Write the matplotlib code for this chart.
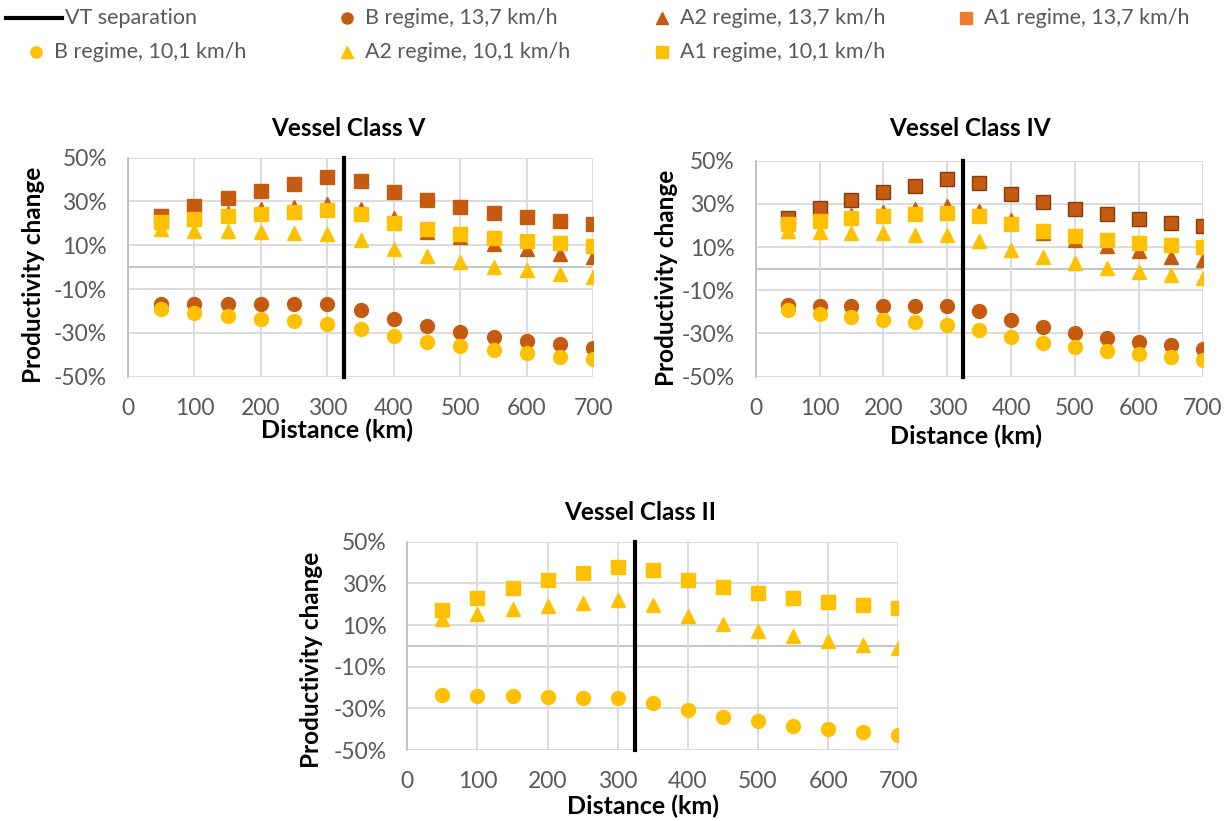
import numpy as np
import matplotlib
matplotlib.use('Agg')
import matplotlib.pyplot as plt
from matplotlib.lines import Line2D
from matplotlib.ticker import FuncFormatter, MultipleLocator

plt.rcParams['font.family'] = ['Lato', 'DejaVu Sans']

distance = [50, 100, 150, 200, 250, 300, 350, 400, 450, 500, 550, 600, 650, 700]
vt_x = [325, 325]
vt_y = [-50, 50]

# Vessel Class V (values in %)
v_b_137 = [-16.7, -17.0, -17.0, -17.0, -17.0, -17.0, -19.4, -23.6, -26.7, -29.5, -31.8, -33.6, -35.2, -36.7]
v_a2_137 = [21.0, 23.0, 24.8, 26.4, 27.6, 29.0, 26.4, 22.5, 16.2, 13.6, 10.6, 8.3, 6.2, 4.5]
v_a1_137 = [23.5, 27.9, 31.5, 34.8, 37.9, 41.1, 39.4, 34.2, 30.6, 27.4, 24.7, 22.9, 21.1, 19.7]
v_b_101 = [-18.9, -20.8, -22.3, -23.6, -24.7, -25.8, -28.3, -31.5, -34.1, -36.2, -38.0, -39.4, -40.8, -41.8]
v_a2_101 = [17.3, 16.7, 16.4, 16.1, 15.6, 15.3, 12.6, 8.5, 5.2, 2.4, 0.2, -1.5, -2.9, -4.4]
v_a1_101 = [20.5, 22.0, 23.2, 24.2, 25.2, 26.0, 24.1, 20.3, 17.4, 15.3, 13.5, 12.0, 10.9, 9.8]

# Vessel Class IV
iv_b_137 = [-16.9, -17.2, -17.1, -17.1, -17.1, -17.1, -19.7, -23.8, -26.9, -29.6, -31.9, -33.8, -35.3, -37.0]
iv_a2_137 = [21.0, 23.0, 24.8, 26.4, 27.8, 29.2, 26.6, 22.6, 16.3, 13.5, 10.5, 8.2, 5.6, 3.9]
iv_a1_137 = [23.7, 28.1, 31.8, 35.3, 38.4, 41.4, 39.7, 34.6, 30.7, 27.6, 25.1, 22.9, 21.1, 19.7]
iv_b_101 = [-19.0, -20.9, -22.4, -23.8, -24.8, -25.9, -28.4, -31.6, -34.2, -36.3, -38.1, -39.6, -41.0, -42.3]
iv_a2_101 = [17.3, 16.9, 16.6, 16.3, 15.8, 15.5, 12.7, 8.5, 5.3, 2.5, 0.3, -1.6, -3.1, -4.3]
iv_a1_101 = [20.8, 22.2, 23.4, 24.3, 25.3, 26.0, 24.2, 20.5, 17.5, 15.3, 13.5, 12.1, 11.0, 9.9]

# Vessel Class II (only 10,1 km/h)
ii_b_101 = [-23.5, -24.0, -24.3, -24.5, -24.8, -25.0, -27.4, -31.0, -34.1, -36.3, -38.4, -40.0, -41.4, -42.6]
ii_a2_101 = [13.0, 15.5, 17.6, 19.0, 20.5, 21.8, 19.4, 14.2, 10.4, 7.0, 4.6, 2.2, 0.6, -1.0]
ii_a1_101 = [17.4, 23.0, 27.7, 31.7, 35.0, 37.9, 36.5, 31.7, 28.2, 25.3, 23.0, 21.0, 19.4, 18.1]

legend_labels = ['VT separation', 'B regime, 13,7 km/h', 'A2 regime, 13,7 km/h', 'A1 regime, 13,7 km/h',
                 'B regime, 10,1 km/h', 'A2 regime, 10,1 km/h', 'A1 regime, 10,1 km/h']

dark = '#C55A11'
light = '#FFC000'
grid_c = '#D9D9D9'
text_c = '#595959'

W, H = 1231, 821
fig = plt.figure(figsize=(W / 100, H / 100), dpi=100)


def px_axes(left, top, right, bottom):
    return fig.add_axes([left / W, 1 - bottom / H, (right - left) / W, (bottom - top) / H])


def style_axes(ax, title, title_xy, xlab_xy, ylab_xy):
    ax.set_xlim(0, 700)
    ax.set_ylim(-50, 50)
    ax.xaxis.set_major_locator(MultipleLocator(100))
    ax.set_yticks([-50, -30, -10, 10, 30, 50])
    ax.yaxis.set_major_formatter(FuncFormatter(lambda v, p: '{:.0f}%'.format(v)))
    ax.grid(True, color=grid_c, linewidth=1.3, zorder=0)
    ax.set_axisbelow(True)
    for s in ['top', 'right', 'bottom']:
        ax.spines[s].set_visible(False)
    ax.spines['left'].set_color('#BFBFBF')
    ax.spines['left'].set_linewidth(1.3)
    ax.axhline(0, color='#BFBFBF', linewidth=1.3, zorder=0.5)
    ax.tick_params(length=0, labelsize=16.5, labelcolor=text_c)
    ax.tick_params(axis='y', pad=15)
    ax.tick_params(axis='x', pad=15)
    fig.text(title_xy[0] / W, 1 - title_xy[1] / H, title, fontsize=17.5, fontweight='bold',
             ha='center', va='center')
    ax.set_xlabel('Distance (km)', fontsize=18, fontweight='bold')
    ax.set_ylabel('Productivity change', fontsize=17.5, fontweight='bold')
    ax.xaxis.set_label_coords(*xlab_xy)
    ax.yaxis.set_label_coords(*ylab_xy)


def draw_series(ax, b, a2, a1, color, edge=None):
    ec = edge if edge else color
    ax.plot(distance, b, 'o', color=color, mec=color, markersize=10, zorder=3)
    ax.plot(distance, a2, '^', color=color, mec=color, markersize=10.5, zorder=3)
    ax.plot(distance, a1, 's', color=color, mec=ec, markersize=10, zorder=3)


ax_v = px_axes(128, 157.7, 593.3, 376.7)
draw_series(ax_v, v_b_137, v_a2_137, v_a1_137, dark)
draw_series(ax_v, v_b_101, v_a2_101, v_a1_101, light)
ax_v.plot(vt_x, vt_y, color='black', linewidth=3, zorder=4, clip_on=False)
style_axes(ax_v, 'Vessel Class V', (348, 128), (0.449, -0.19), (-0.178, 0.464))

ax_iv = px_axes(755.7, 160.7, 1202.7, 376.7)
draw_series(ax_iv, iv_b_137, iv_a2_137, iv_a1_137, dark, edge='#843C0C')
draw_series(ax_iv, iv_b_101, iv_a2_101, iv_a1_101, light)
ax_iv.plot(vt_x, vt_y, color='black', linewidth=3, zorder=4, clip_on=False)
style_axes(ax_iv, 'Vessel Class IV', (970, 128), (0.47, -0.22), (-0.174, 0.457))

ax_ii = px_axes(407.3, 541.7, 898.3, 750)
ax_ii.plot(distance, ii_b_101, 'o', color=light, markersize=10, zorder=3)
ax_ii.plot(distance, ii_a2_101, '^', color=light, markersize=10.5, zorder=3)
ax_ii.plot(distance, ii_a1_101, 's', color=light, markersize=10, zorder=3)
ax_ii.plot(vt_x, vt_y, color='black', linewidth=3, zorder=4, clip_on=False)
style_axes(ax_ii, 'Vessel Class II', (640, 512), (0.48, -0.215), (-0.172, 0.432))

# legend, laid out like the Excel one (row 1: four entries, row 2: three)
leg_style = [
    dict(ls='-', color='black', lw=3),
    dict(marker='o', ls='none', color=dark, markersize=8),
    dict(marker='^', ls='none', color=dark, markersize=8),
    dict(marker='s', ls='none', color='#ED7D31', markersize=8),
    dict(marker='o', ls='none', color=light, markersize=8),
    dict(marker='^', ls='none', color=light, markersize=8),
    dict(marker='s', ls='none', color=light, markersize=8),
]
leg_pos = [(6, 18), (347, 18), (662, 18), (966, 18), (36, 52), (347, 52), (662, 52)]
for lab, st, (x, y) in zip(legend_labels, leg_style, leg_pos):
    yf = 1 - y / H
    if st.get('marker') is None:
        fig.add_artist(Line2D([x / W, 62 / W], [yf, yf], transform=fig.transFigure, **st))
        tx = 65
    else:
        fig.add_artist(Line2D([x / W], [yf], transform=fig.transFigure, **st))
        tx = x + 18
    fig.text(tx / W, yf, lab, fontsize=15.5, color=text_c, ha='left', va='center')

fig.savefig('out.png', dpi=100)
